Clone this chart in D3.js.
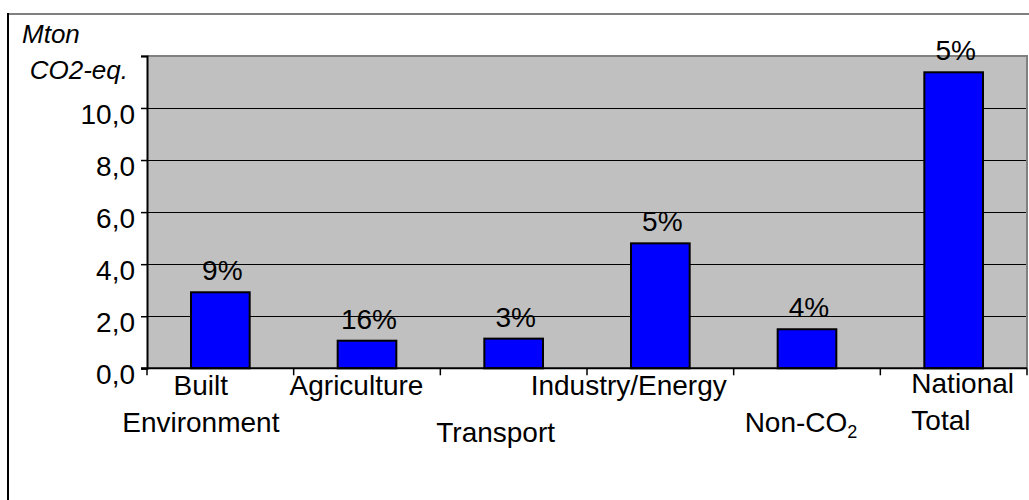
<!DOCTYPE html>
<html>
<head>
<meta charset="utf-8">
<script src="https://cdn.jsdelivr.net/npm/d3@7"></script>
<style>
  html, body { margin: 0; padding: 0; background: #fff; }
  svg { display: block; font-family: "Liberation Sans", Arial, sans-serif; }
</style>
</head>
<body>
<svg id="chart" width="1029" height="500"></svg>
<script>
// ---- data ----
const categories = ["Built Environment", "Agriculture", "Transport", "Industry/Energy", "Non-CO2", "National Total"];
const values = [2.92, 1.06, 1.14, 4.80, 1.50, 11.37];
const percentLabels = ["9%", "16%", "3%", "5%", "4%", "5%"];
const yTicks = [0, 2, 4, 6, 8, 10, 12];
const yTickLabels = ["0,0", "2,0", "4,0", "6,0", "8,0", "10,0", ""];
const labelLines = [["Built", "Environment"], ["Agriculture"], ["Transport"], ["Industry/Energy"], ["Non-CO|2"], ["National", "Total"]];

// ---- layout (not data) ----
const plot = { left: 147, right: 1027, top: 55.9, bottom: 368.3 };
const labelDx = [-19.5, -10.5, -18, -31.6, -6, 31];
const labelAnchor = ["middle", "middle", "middle", "middle", "middle", "start"];
const labelBase = [27, 27, 73.4, 27, 63.4, 25];
const lineH = 37;

const svg = d3.select("#chart");

// outer frame
svg.append("line").attr("x1", 8).attr("x2", 1029).attr("y1", 14).attr("y2", 14)
  .attr("stroke", "#808080").attr("stroke-width", 2);
svg.append("line").attr("x1", 8).attr("x2", 8).attr("y1", 13).attr("y2", 500)
  .attr("stroke", "#000").attr("stroke-width", 2);

const x = d3.scaleBand().domain(categories).range([plot.left, plot.right]).padding(0);
const y = d3.scaleLinear().domain([0, 12]).range([plot.bottom, plot.top]);

// plot background
svg.append("rect")
  .attr("x", plot.left).attr("y", y(12))
  .attr("width", plot.right - plot.left).attr("height", y(0) - y(12))
  .attr("fill", "#c0c0c0");

// gridlines
svg.append("g").selectAll("line").data(yTicks.filter(d => d > 0 && d < 12)).join("line")
  .attr("x1", plot.left).attr("x2", plot.right)
  .attr("y1", d => Math.round(y(d)) + 0.5).attr("y2", d => Math.round(y(d)) + 0.5)
  .attr("stroke", "#000").attr("stroke-width", 1);

// plot border top/right (gray)
svg.append("path")
  .attr("d", `M${plot.left},${y(12)}H${plot.right}V${y(0)}`)
  .attr("fill", "none").attr("stroke", "#808080").attr("stroke-width", 2);

// bars
const step = x.step();
svg.append("g").selectAll("rect").data(categories).join("rect")
  .attr("x", d => x(d) + step * 0.3)
  .attr("y", (d, i) => y(values[i]))
  .attr("width", step * 0.4)
  .attr("height", (d, i) => y(0) - y(values[i]))
  .attr("fill", "#0000ff").attr("stroke", "#000").attr("stroke-width", 2);

// percent labels
svg.append("g").selectAll("text").data(categories).join("text")
  .attr("x", d => x(d) + step / 2 + 2)
  .attr("y", (d, i) => y(values[i]) - 12)
  .attr("text-anchor", "middle")
  .attr("font-size", 28)
  .attr("fill", "#000")
  .text((d, i) => percentLabels[i]);

// y axis
const yAxis = d3.axisLeft(y).tickValues(yTicks).tickSize(6).tickFormat((d, i) => yTickLabels[i]);
const gy = svg.append("g").attr("transform", `translate(${plot.left},0)`).call(yAxis);
gy.select(".domain").attr("stroke", "#000").attr("stroke-width", 2);
gy.selectAll(".tick line").attr("stroke", "#000").attr("stroke-width", 1.5);
gy.selectAll(".tick text")
  .attr("font-size", 28).attr("font-family", "Liberation Sans, Arial, sans-serif")
  .attr("fill", "#000").attr("x", -12).attr("dy", "0.55em");

// x axis with ticks at category boundaries
const xAxisLine = svg.append("g");
xAxisLine.append("line").attr("x1", plot.left - 6).attr("x2", plot.right)
  .attr("y1", y(0)).attr("y2", y(0)).attr("stroke", "#000").attr("stroke-width", 2);
const boundaries = categories.map(c => x(c)).concat([plot.right]);
xAxisLine.selectAll(".xt").data(boundaries).join("line").attr("class", "xt")
  .attr("x1", d => d).attr("x2", d => d)
  .attr("y1", y(0)).attr("y2", y(0) + 7)
  .attr("stroke", "#000").attr("stroke-width", 1.5);

// category labels
categories.forEach((c, i) => {
  const t = svg.append("text")
    .attr("font-size", 28).attr("fill", "#000")
    .attr("text-anchor", labelAnchor[i]);
  const cx = labelAnchor[i] === "start" ? x(c) + labelDx[i] : x(c) + step / 2 + labelDx[i];
  labelLines[i].forEach((line, j) => {
    const yy = y(0) + labelBase[i] + j * lineH;
    const parts = line.split("|");
    t.append("tspan").attr("x", cx).attr("y", yy).text(parts[0]);
    if (parts[1]) {
      t.append("tspan").attr("font-size", 18).attr("dy", 6).text(parts[1]);
    }
  });
});

// axis title
svg.append("text").attr("x", 22).attr("y", 42.5)
  .attr("font-size", 26).attr("font-style", "italic").attr("fill", "#000")
  .text("Mton");
svg.append("text").attr("x", 128).attr("y", 79)
  .attr("text-anchor", "end")
  .attr("font-size", 26).attr("font-style", "italic").attr("fill", "#000")
  .text("CO2-eq.");
</script>
</body>
</html>
